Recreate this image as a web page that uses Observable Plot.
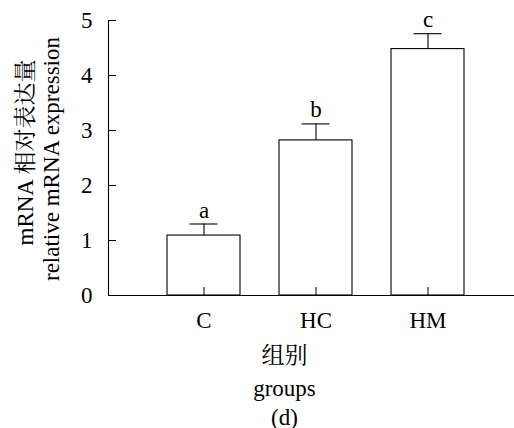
<!DOCTYPE html>
<html>
<head>
<meta charset="utf-8">
<script src="https://cdn.jsdelivr.net/npm/d3@7"></script>
<script src="https://cdn.jsdelivr.net/npm/@observablehq/plot@0.6"></script>
<style>
  body { margin: 0; background: #fff; }
</style>
</head>
<body>
<div id="chart"></div>
<script>
const groups = ["C", "HC", "HM"];
const means = [1.09, 2.82, 4.48];
const errors = [0.21, 0.30, 0.28];
const letters = ["a", "b", "c"];
const yTicks = [0, 1, 2, 3, 4, 5];
const yTitle1 = "mRNA 相对表达量";
const yTitle2 = "relative mRNA expression";
const xTitle1 = "组别";
const xTitle2 = "groups";
const panel = "(d)";

const data = groups.map((g, i) => ({group: g, mean: means[i], top: means[i] + errors[i], letter: letters[i]}));

const font = "'Liberation Serif', 'Times New Roman', 'Noto Serif CJK SC', 'Noto Sans CJK SC', serif";
const fs = 23;

const chart = Plot.plot({
  width: 514,
  height: 428,
  marginLeft: 108,
  marginRight: 0,
  marginTop: 20,
  marginBottom: 133,
  style: {fontFamily: font, fontSize: fs + "px", background: "#fff", color: "#000", overflow: "visible"},
  x: {domain: groups, paddingInner: 0.351, paddingOuter: 0.48, align: 0.537, label: null},
  y: {domain: [0, 5], ticks: yTicks, label: null},
  marks: [
    Plot.barY(data, {x: "group", y: "mean", fill: "white", stroke: "black", strokeWidth: 1.1}),
    Plot.ruleX(data, {x: "group", y1: "mean", y2: "top", stroke: "black", strokeWidth: 1.1}),
    Plot.tickY(data, {x: "group", y: "top", stroke: "black", strokeWidth: 1.1, insetLeft: 22.5, insetRight: 22.5}),
    Plot.text(data, {x: "group", y: "top", text: "letter", lineAnchor: "bottom", dy: -6.5, fontSize: fs}),
    Plot.ruleY([0], {stroke: "black", strokeWidth: 1.1}),
    Plot.frame({anchor: "left", stroke: "black", strokeWidth: 1.1}),
    Plot.axisX({tickSize: -8, tickPadding: 24, fontSize: fs, label: null}),
    Plot.axisY({ticks: yTicks, tickFormat: d3.format("d"), tickSize: -8, tickPadding: 24, fontSize: fs, label: null}),
    Plot.text([yTitle1], {frameAnchor: "left", textAnchor: "middle", rotate: -90, lineAnchor: "bottom", dx: -76, dy: -5.5, fontSize: fs}),
    Plot.text([yTitle2], {frameAnchor: "left", textAnchor: "middle", rotate: -90, lineAnchor: "bottom", dx: -50, dy: 1, fontSize: fs}),
    Plot.text([xTitle1], {frameAnchor: "bottom", textAnchor: "middle", lineAnchor: "bottom", dx: -27, dy: 67, fontSize: fs}),
    Plot.text([xTitle2], {frameAnchor: "bottom", textAnchor: "middle", lineAnchor: "bottom", dx: -27, dy: 100, fontSize: fs}),
    Plot.text([panel], {frameAnchor: "bottom", textAnchor: "middle", lineAnchor: "bottom", dx: -27, dy: 129, fontSize: fs})
  ]
});
document.getElementById("chart").appendChild(chart);
</script>
</body>
</html>
